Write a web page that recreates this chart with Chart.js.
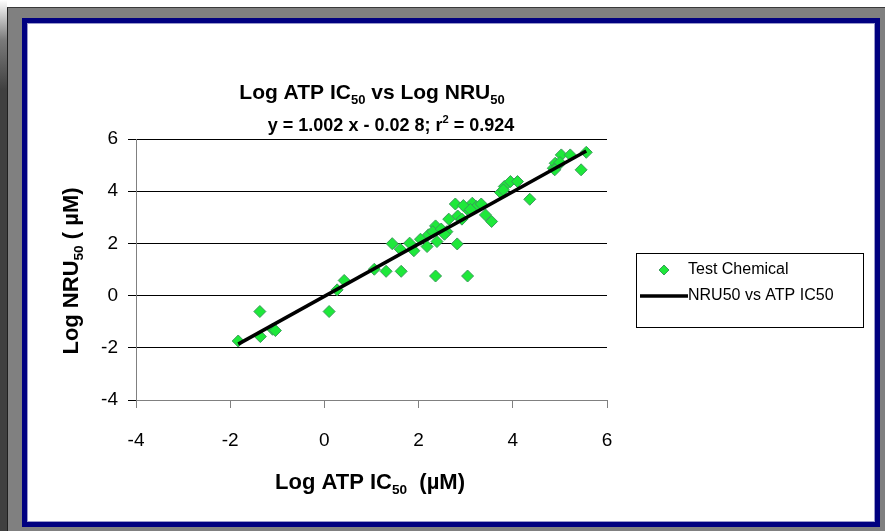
<!DOCTYPE html>
<html>
<head>
<meta charset="utf-8">
<script src="https://cdn.jsdelivr.net/npm/chart.js@4/dist/chart.umd.min.js"></script>
<style>
  html, body { margin: 0; padding: 0; background: #fff; }
  #page { position: relative; width: 885px; height: 531px; overflow: hidden; }
  #strip { position: absolute; left: 0; top: 0; width: 7px; height: 531px;
           background: linear-gradient(#ffffff 0px, #7a7a7a 40px, #404040 90px, #404040 100%); }
  #outer { position: absolute; left: 7px; top: 7px; right: 0; bottom: 0; background: #808080;
           border-top: 1px solid #3a3a3a; border-left: 1px solid #202020; }
  #frame { position: absolute; left: 22px; top: 18px; width: 858px; height: 509px; box-sizing: border-box;
           border: 5px solid #000080; background: #fff; box-shadow: inset 0 0 0 1px #9a9acc; }
  #myChart { position: absolute; left: 0; top: 0; }
</style>
</head>
<body>
<div id="page">
  <div id="strip"></div>
  <div id="outer"></div>
  <div id="frame"></div>
  <canvas id="myChart" width="885" height="531"></canvas>
</div>
<script>
// Log ATP IC50 (x) and Log NRU50 (y) for each test chemical
const atpIC50 = [-1.83, -1.37, -1.36, -1.10, -1.04, 0.10, 0.27, 0.42, 1.06, 1.31,
                 1.63, 1.44, 1.61, 1.81, 1.90, 2.04, 2.18, 2.21, 2.36, 2.39,
                 2.36, 2.60, 2.64, 2.78, 2.82, 2.83, 2.92, 3.03, 3.04, 3.14,
                 3.23, 3.33, 3.42, 3.55, 3.74, 3.82, 3.95, 4.10, 4.36, 4.86,
                 4.90, 5.03, 5.22, 5.45, 5.56, 4.97, 4.89, 2.30, 2.48, 2.55,
                 2.95, 3.10, 3.80, 5.00];
const nru50   = [-1.74, -0.61, -1.57, -1.29, -1.34, -0.61, 0.22, 0.58, 1.01, 0.93,
                 0.93, 1.99, 1.78, 2.01, 1.72, 2.16, 1.88, 2.33, 2.67, 2.07,
                 0.75, 2.45, 2.93, 3.51, 1.98, 3.05, 2.93, 3.31, 0.75, 3.54,
                 3.41, 3.51, 3.09, 2.84, 3.95, 4.18, 4.37, 4.37, 3.69, 4.88,
                 5.07, 5.39, 5.39, 4.82, 5.49, 5.01, 4.82, 2.45, 2.55, 2.35,
                 3.45, 3.30, 4.05, 5.10];

// regression line end points (y = 1.002x - 0.028)
const fitX = [-1.83, 5.56];
const fitY = [-1.86, 5.54];

const xTicks = [-4, -2, 0, 2, 4, 6];
const yTicks = [-4, -2, 0, 2, 4, 6];

const seriesNames = ['Test Chemical', 'NRU50 vs ATP IC50'];

const FONT = '"Liberation Sans", Arial, sans-serif';

// draws a string made of normal / sub / sup pieces, centred on x
function drawRich(ctx, parts, x, y, size) {
    const widths = parts.map(p => {
        const s = p.s ? size * 0.62 : size;
        ctx.font = `bold ${s}px ${FONT}`;
        return ctx.measureText(p.t).width;
    });
    let cx = x - widths.reduce((a, b) => a + b, 0) / 2;
    parts.forEach((p, i) => {
        const s = p.s ? size * 0.62 : size;
        ctx.font = `bold ${s}px ${FONT}`;
        let dy = 0;
        if (p.s === 'sub') dy = size * 0.22;
        if (p.s === 'sup') dy = -size * 0.42;
        ctx.fillText(p.t, cx, y + dy);
        cx += widths[i];
    });
}

const textPlugin = {
    id: 'richText',
    afterDraw: (chart) => {
        const { ctx } = chart;
        ctx.save();
        ctx.fillStyle = '#000';
        ctx.textAlign = 'left';
        ctx.textBaseline = 'alphabetic';

        drawRich(ctx, [{ t: 'Log ATP IC' }, { t: '50', s: 'sub' }, { t: ' vs Log NRU' }, { t: '50', s: 'sub' }], 372, 99, 21);
        drawRich(ctx, [{ t: 'y = 1.002 x - 0.02 8; r' }, { t: '2', s: 'sup' }, { t: ' = 0.924' }], 391, 131, 18);
        drawRich(ctx, [{ t: 'Log ATP IC' }, { t: '50', s: 'sub' }, { t: '  (µM)' }], 370, 489, 22);

        ctx.save();
        ctx.translate(78, 271);
        ctx.rotate(-Math.PI / 2);
        drawRich(ctx, [{ t: 'Log NRU' }, { t: '50', s: 'sub' }, { t: ' ( µM)' }], 0, 0, 22);
        ctx.restore();

        // legend
        const ds = chart.data.datasets;
        ctx.lineWidth = 1;
        ctx.strokeStyle = '#000';
        ctx.strokeRect(636.5, 253.5, 227, 74);

        ctx.font = `16px ${FONT}`;
        ctx.textBaseline = 'middle';

        const r = 5;
        ctx.beginPath();
        ctx.moveTo(664 - r, 270);
        ctx.lineTo(664, 270 - r);
        ctx.lineTo(664 + r, 270);
        ctx.lineTo(664, 270 + r);
        ctx.closePath();
        ctx.fillStyle = ds[0].backgroundColor;
        ctx.fill();
        ctx.strokeStyle = ds[0].borderColor;
        ctx.stroke();
        ctx.fillStyle = '#000';
        ctx.fillText(ds[0].label, 688, 270);

        ctx.beginPath();
        ctx.moveTo(640, 296);
        ctx.lineTo(688, 296);
        ctx.strokeStyle = ds[1].borderColor;
        ctx.lineWidth = ds[1].borderWidth;
        ctx.stroke();
        ctx.fillText(ds[1].label, 688, 296);

        ctx.restore();
    }
};

const ctx = document.getElementById('myChart').getContext('2d');

new Chart(ctx, {
    type: 'scatter',
    data: {
        datasets: [
            {
                label: seriesNames[0],
                data: atpIC50.map((x, i) => ({ x: x, y: nru50[i] })),
                pointStyle: 'rectRot',
                pointRadius: 6,
                backgroundColor: '#1ee83a',
                borderColor: '#3a9a5a',
                borderWidth: 1,
                order: 2
            },
            {
                label: seriesNames[1],
                type: 'line',
                data: fitX.map((x, i) => ({ x: x, y: fitY[i] })),
                borderColor: '#000',
                borderWidth: 3.5,
                pointRadius: 0,
                fill: false,
                order: 1
            }
        ]
    },
    plugins: [textPlugin],
    options: {
        responsive: false,
        animation: false,
        devicePixelRatio: 1,
        layout: { padding: { left: 96, top: 139, right: 278, bottom: 51 } },
        plugins: {
            legend: { display: false },
            title: { display: false },
            tooltip: { enabled: false }
        },
        scales: {
            x: {
                type: 'linear',
                min: -4,
                max: 6,
                afterFit: (scale) => { scale.height = 80; },
                afterBuildTicks: (scale) => { scale.ticks = xTicks.map(v => ({ value: v })); },
                grid: { drawOnChartArea: false, drawTicks: true, tickLength: 8, color: '#808080' },
                border: { color: '#808080', width: 1 },
                ticks: { color: '#000', font: { family: FONT, size: 19 }, padding: 21, maxRotation: 0 }
            },
            y: {
                type: 'linear',
                min: -4,
                max: 6,
                afterFit: (scale) => { scale.width = 40; },
                afterBuildTicks: (scale) => { scale.ticks = yTicks.map(v => ({ value: v })); },
                grid: { color: '#000', tickLength: 8, lineWidth: 1 },
                border: { color: '#808080', width: 1 },
                ticks: { color: '#000', font: { family: FONT, size: 19 }, padding: 10 }
            }
        }
    }
});
</script>
</body>
</html>
